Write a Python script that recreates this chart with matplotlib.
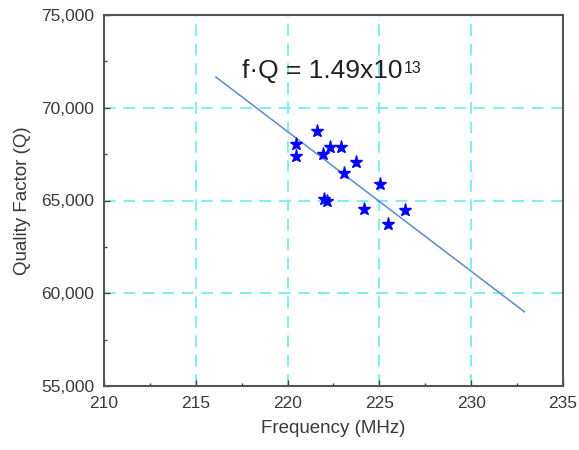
import matplotlib.pyplot as plt
from matplotlib.ticker import MultipleLocator, FuncFormatter

plt.rcParams['font.family'] = ['Liberation Sans', 'DejaVu Sans']

# measured resonator data
freq_mhz = [221.58, 220.44, 220.46, 222.33, 222.91, 221.91, 223.74,
            223.07, 225.05, 221.98, 222.15, 224.14, 226.39, 225.49]
quality = [68760, 68030, 67420, 67890, 67900, 67490, 67090,
           66470, 65880, 65100, 64990, 64560, 64510, 63740]

# linear fit line end points
fit_freq = [216.1, 232.9]
fit_q = [71650, 59000]

fig = plt.figure(figsize=(5.79, 4.5), dpi=100)
ax = fig.add_axes([104 / 579, 1 - 386 / 450, (563 - 104) / 579, (386 - 15) / 450])

ax.grid(True, color='#80EEF0', linestyle=(0, (6, 4)), linewidth=1.4)
ax.set_axisbelow(True)

ax.plot(fit_freq, fit_q, color='#5C8BC8', linewidth=1.1, zorder=2)
ax.plot(freq_mhz, quality, linestyle='none', marker='*', color='#0000FF',
        markersize=9.5, zorder=3)

# annotation, superscript drawn as a separate smaller text
t = ax.text(217.53, 71590, 'f\u00b7Q = 1.49x10', fontsize=19, color='#222222',
            va='baseline')
ax.annotate('13', xy=(1, 1), xycoords=t, xytext=(1, -1), textcoords='offset points',
            fontsize=11.5, color='#222222', ha='left', va='top')

ax.set_xlim(210, 235)
ax.set_ylim(55000, 75000)
ax.xaxis.set_major_locator(MultipleLocator(5))
ax.xaxis.set_minor_locator(MultipleLocator(2.5))
ax.yaxis.set_major_locator(MultipleLocator(5000))
ax.yaxis.set_minor_locator(MultipleLocator(2500))
ax.yaxis.set_major_formatter(FuncFormatter(lambda v, p: f'{int(v):,}'))

ax.tick_params(which='both', direction='in', colors='#444444', labelcolor='#3a3a3a',
               labelsize=12.5, pad=7)
ax.tick_params(which='major', length=4, width=1)
ax.tick_params(which='minor', length=2.5, width=1)

for s in ax.spines.values():
    s.set_color('#555555')
    s.set_linewidth(1.5)

ax.set_xlabel('Frequency (MHz)', fontsize=13.5, color='#3a3a3a', labelpad=7)
ax.set_ylabel('Quality Factor (Q)', fontsize=13.5, color='#3a3a3a', labelpad=7)

fig.savefig('out.png', dpi=100)
